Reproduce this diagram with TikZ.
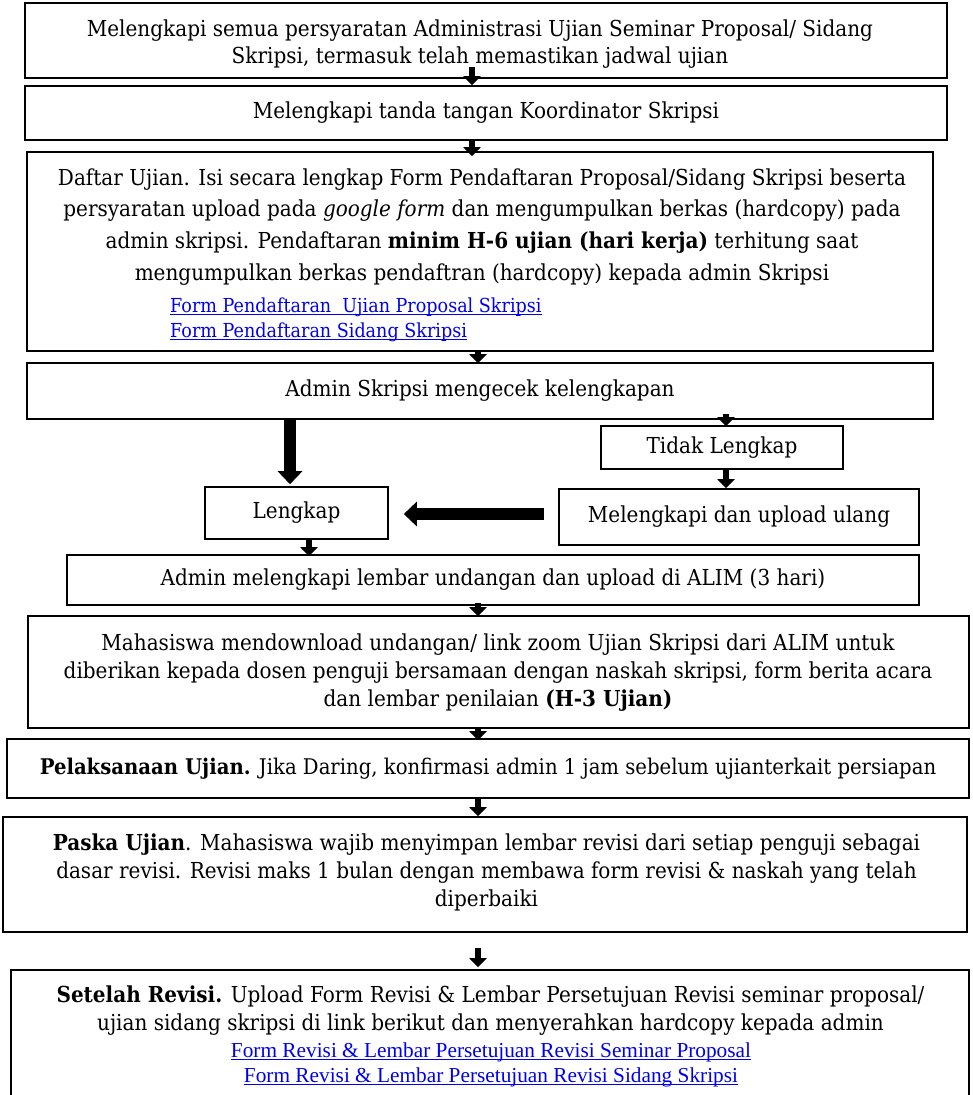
\documentclass[tikz,border=0pt]{standalone}
\usepackage{fontspec}
\setmainfont{DejaVu Serif}[FakeStretch=0.91]
\newfontfamily\linkfont{Liberation Serif}
\usetikzlibrary{arrows.meta}
\definecolor{linkblue}{RGB}{0,0,238}
\newcommand{\mainsz}{\fontsize{22}{28}\selectfont}
\newcommand{\mylink}[1]{\textcolor{linkblue}{\setbox0\hbox{#1}\rlap{\rule[-2.6pt]{\wd0}{1.2pt}}\box0}}
\begin{document}
\begin{tikzpicture}[x=1pt, y=-1pt,
  box/.style={draw, line width=1.6pt, inner sep=0pt, align=center, font=\mainsz},
  txt/.style={anchor=north, inner sep=0pt, align=center, font=\mainsz},
  arr/.style={line width=6pt, -{Triangle[width=17pt,length=9pt]}},
  bigarr/.style={line width=12pt, -{Triangle[width=24pt,length=13pt]}}]
\useasboundingbox (0,0) rectangle (972,1095);
% boxes
\node[box, minimum width=922pt, minimum height=75pt] (b1) at (486,40.5) {};
\node[box, minimum width=922pt, minimum height=54pt] (b2) at (486,113) {Melengkapi tanda tangan Koordinator Skripsi};
\node[box, minimum width=906pt, minimum height=199pt] (b3) at (480,251.5) {};
\node[box, minimum width=906pt, minimum height=56pt] (b4) at (480,391) {Admin Skripsi mengecek kelengkapan};
\node[box, minimum width=242pt, minimum height=43pt] (tidak) at (722,447.5) {Tidak Lengkap};
\node[box, minimum width=360pt, minimum height=56pt] (mel) at (739,517) {Melengkapi dan upload ulang};
\node[box, minimum width=183pt, minimum height=52pt] (lengkap) at (296.5,513) {Lengkap};
\node[box, minimum width=852pt, minimum height=50pt] (admin) at (493,580) {Admin melengkapi lembar undangan dan upload di ALIM (3 hari)};
\node[box, minimum width=941pt, minimum height=112pt] (maha) at (498.5,672) {};
\node[box, minimum width=962pt, minimum height=59pt, font=\fontsize{21.6}{28}\selectfont] (pelak) at (488,768.5) {\textbf{Pelaksanaan Ujian.} Jika Daring, konfirmasi admin 1 jam sebelum ujianterkait persiapan};
\node[box, minimum width=964pt, minimum height=115pt] (paska) at (485,874.5) {};
\node[box, minimum width=958pt, minimum height=140pt] (setelah) at (490,1040) {};
% texts
\node[txt, font=\fontsize{22}{27}\selectfont] (t1) at (480,17.1) {\strut Melengkapi semua persyaratan Administrasi Ujian Seminar Proposal/ Sidang\\Skripsi, termasuk telah memastikan jadwal ujian};
\node[txt, font=\fontsize{22}{31.7}\selectfont] (t3) at (482,162.8) {\strut Daftar Ujian. Isi secara lengkap Form Pendaftaran Proposal/Sidang Skripsi beserta\\persyaratan upload pada \textit{google form} dan mengumpulkan berkas (hardcopy) pada\\admin skripsi. Pendaftaran \textbf{minim H-6 ujian (hari kerja)} terhitung saat\\mengumpulkan berkas pendaftran (hardcopy) kepada admin Skripsi};
\node[anchor=north west, inner sep=0pt, align=left, font=\fontsize{19.3}{25}\selectfont] (l1) at (170,294.5) {\strut\mylink{Form Pendaftaran~ Ujian Proposal Skripsi}\\\mylink{Form Pendaftaran Sidang Skripsi}};
\node[txt] (t8) at (498,630.4) {\strut Mahasiswa mendownload undangan/ link zoom Ujian Skripsi dari ALIM untuk\\diberikan kepada dosen penguji bersamaan dengan naskah skripsi, form berita acara\\dan lembar penilaian \textbf{(H-3 Ujian)}};
\node[txt] (t10) at (486.5,830.4) {\strut\textbf{Paska Ujian}. Mahasiswa wajib menyimpan lembar revisi dari setiap penguji sebagai\\dasar revisi. Revisi maks 1 bulan dengan membawa form revisi \& naskah yang telah\\diperbaiki};
\node[txt] (t11) at (490.5,982.4) {\strut\textbf{Setelah Revisi.} Upload Form Revisi \& Lembar Persetujuan Revisi seminar proposal/\\ujian sidang skripsi di link berikut dan menyerahkan hardcopy kepada admin};
\node[anchor=north, inner sep=0pt, align=center, font=\linkfont\fontsize{21.3}{25}\selectfont] (l2) at (491,1039.5) {\strut\mylink{Form Revisi \& Lembar Persetujuan Revisi Seminar Proposal}\\\mylink{Form Revisi \& Lembar Persetujuan Revisi Sidang Skripsi}};
% connectors
\draw[arr] ([xshift=-14pt,yshift=12pt]b1.south) -- ([xshift=-14pt]b2.north);
\draw[arr] ([xshift=-14pt]b2.south) -- ([xshift=-8pt,yshift=-5pt]b3.north);
\draw[arr] ([xshift=-2pt,yshift=2pt]b3.south) -- ([xshift=-2pt,yshift=-1pt]b4.north);
\draw[arr] ([xshift=246pt,yshift=6pt]b4.south) -- ([xshift=4pt,yshift=-1pt]tidak.north);
\draw[arr] ([xshift=4pt]tidak.south) -- ([xshift=-13pt]mel.north);
\draw[bigarr] ([xshift=-190pt]b4.south) -- ([xshift=-6.5pt,yshift=2pt]lengkap.north);
\draw[bigarr] ([xshift=-14pt,yshift=3pt]mel.west) -- ([xshift=15pt,yshift=-1pt]lengkap.east);
\draw[arr] ([xshift=12.5pt]lengkap.south) -- ([xshift=-184pt,yshift=-2pt]admin.north);
\draw[arr] ([xshift=-15pt,yshift=3pt]admin.south) -- ([xshift=-20.5pt,yshift=-1pt]maha.north);
\draw[arr] ([xshift=-20.5pt,yshift=2pt]maha.south) -- ([xshift=-10pt,yshift=-2pt]pelak.north);
\draw[arr] ([xshift=-10pt]pelak.south) -- ([xshift=-7pt]paska.north);
\draw[arr] ([xshift=-7pt,yshift=-15pt]paska.south) -- ([xshift=-12pt,yshift=2pt]setelah.north);
\end{tikzpicture}
\end{document}
